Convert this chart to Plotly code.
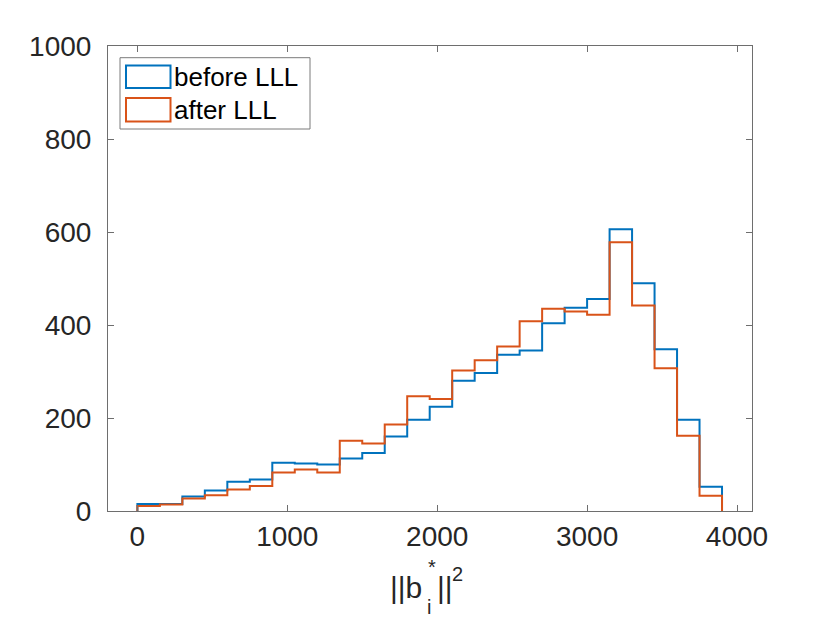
import plotly.graph_objects as go

# ---- data ----
bin_edges = [0, 150, 300, 450, 600, 750, 900, 1050, 1200, 1350, 1500, 1650, 1800,
             1950, 2100, 2250, 2400, 2550, 2700, 2850, 3000, 3150, 3300, 3450,
             3600, 3750, 3900]
before_counts = [15, 15, 31, 44, 63, 68, 104, 102, 100, 113, 125, 160, 196,
                 224, 280, 297, 336, 345, 404, 437, 456, 606, 490, 348, 196, 52]
after_counts = [11, 14, 27, 34, 46, 54, 83, 89, 83, 151, 145, 186, 247,
                241, 302, 324, 354, 408, 435, 429, 422, 578, 442, 307, 162, 33]
series_names = ["before LLL", "after LLL"]
x_ticks = [0, 1000, 2000, 3000, 4000]
y_ticks = [0, 200, 400, 600, 800, 1000]

BLUE = "#0072BD"
ORANGE = "#D95319"
TXT = "#262626"
AX = "#6e6e6e"
FONT = "Liberation Sans, Arial, Helvetica, sans-serif"


def stairs(edges, counts):
    xs = [edges[0]] + list(edges) + [edges[-1]]
    ys = [0] + list(counts) + [counts[-1], 0]
    return xs, ys


fig = go.Figure()
for counts, color, name in [(before_counts, BLUE, series_names[0]),
                            (after_counts, ORANGE, series_names[1])]:
    xs, ys = stairs(bin_edges, counts)
    fig.add_trace(go.Scatter(x=xs, y=ys, mode="lines", line_shape="hv",
                             line=dict(color=color, width=2), name=name,
                             showlegend=False))

W, H = 830, 623
L, T = 108, 46
pw, ph = 644, 465
R, B = W - L - pw, H - T - ph


def px(x):  # page pixel -> paper x
    return (x - L) / pw


def py(y):  # page pixel -> paper y
    return (T + ph - y) / ph


fig.update_layout(
    width=W, height=H,
    margin=dict(l=L, r=R, t=T, b=B),
    paper_bgcolor="white", plot_bgcolor="white",
    font=dict(family=FONT, color=TXT, size=28),
    showlegend=False,
    xaxis=dict(range=[-196, 4100], tickvals=x_ticks, ticks="inside", ticklen=6,
               tickcolor=AX, showline=True, linecolor=AX, linewidth=1,
               mirror="ticks", showgrid=False, zeroline=False,
               tickfont=dict(size=28, color=TXT, family=FONT)),
    yaxis=dict(range=[0, 1000], tickvals=y_ticks, ticks="inside", ticklen=6,
               tickcolor=AX, showline=True, linecolor=AX, linewidth=1,
               mirror="ticks", showgrid=False, zeroline=False,
               ticklabelstandoff=10,
               tickfont=dict(size=28, color=TXT, family=FONT)),
)

# custom legend (MATLAB style with rectangle icons)
shapes = [
    dict(type="rect", xref="paper", yref="paper", x0=px(120), x1=px(310),
         y0=py(129), y1=py(57.7), line=dict(color="#7a7a7a", width=1),
         fillcolor="white", layer="above"),
    dict(type="rect", xref="paper", yref="paper", x0=px(126), x1=px(170.5),
         y0=py(88), y1=py(65.5), line=dict(color=BLUE, width=2), layer="above"),
    dict(type="rect", xref="paper", yref="paper", x0=px(126), x1=px(170.5),
         y0=py(121.5), y1=py(98), line=dict(color=ORANGE, width=2), layer="above"),
]
fig.update_layout(shapes=shapes)


def ann(text, x, y, size, xanchor="center", color=TXT):
    return dict(text=text, x=px(x), y=py(y), xref="paper", yref="paper",
                xanchor=xanchor, yanchor="middle", showarrow=False,
                borderpad=0, font=dict(size=size, color=color, family=FONT))


annots = [
    ann(series_names[0], 173, 77, 26, "left", "black"),
    ann(series_names[1], 173, 110, 26, "left", "black"),
    # x-axis label  ||b_i^*||^2  (pieces so that * stacks above i)
    ann("||b", 423, 587, 30, "right"),
    ann("i", 428.5, 607, 20),
    ann("*", 432, 567, 20),
    ann("||", 436, 587, 30, "left"),
    ann("2", 451, 574, 20, "left"),
]
fig.update_layout(annotations=annots)

fig.write_html("out.html",
               config={"displayModeBar": False},
               post_script="document.body.style.margin='0';"
                           "document.body.style.overflow='hidden';")
